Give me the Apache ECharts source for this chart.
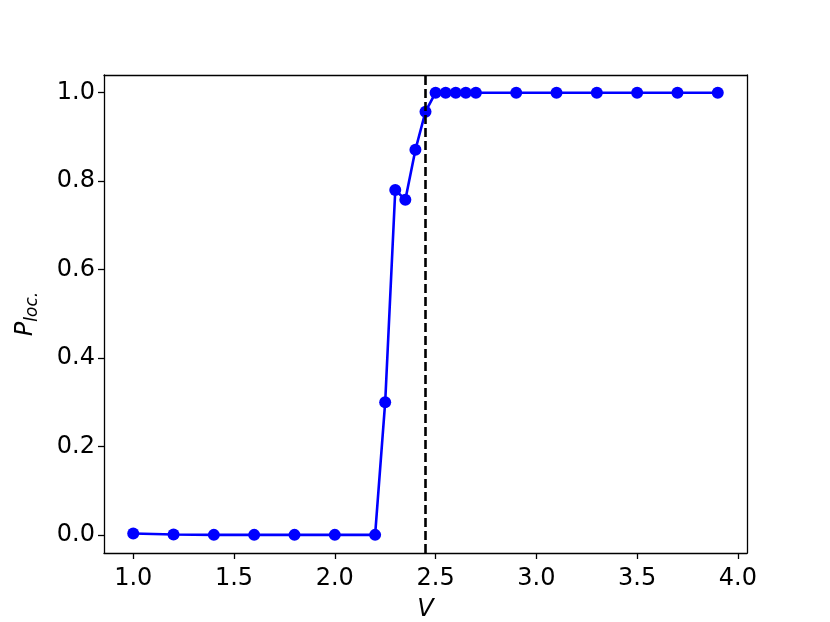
<!DOCTYPE html>
<html>
<head>
<meta charset="utf-8">
<script src="https://cdn.jsdelivr.net/npm/echarts@6/dist/echarts.min.js"></script>
<style>
  html, body { margin: 0; padding: 0; background: #fff; }
  #chart { width: 830px; height: 622px; }
</style>
</head>
<body>
<div id="chart"></div>
<script>
// voltage values and localisation probability
var vValues = [1.0, 1.2, 1.4, 1.6, 1.8, 2.0, 2.2, 2.25, 2.3, 2.35, 2.4, 2.45,
  2.5, 2.55, 2.6, 2.65, 2.7, 2.9, 3.1, 3.3, 3.5, 3.7, 3.9]
var pLoc = [0.003, 0.001, 0.0, 0.0, 0.0, 0.0, 0.0, 0.30, 0.78, 0.758, 0.871, 0.957,
  1.0, 1.0, 1.0, 1.0, 1.0, 1.0, 1.0, 1.0, 1.0, 1.0, 1.0]
var xTicks = [1.0, 1.5, 2.0, 2.5, 3.0, 3.5, 4.0]
var yTicks = [0.0, 0.2, 0.4, 0.6, 0.8, 1.0]
var vCritical = 2.45

var chart = echarts.init(document.getElementById('chart'))
var font = 'DejaVu Sans'
var frameLine = { show: true, onZero: false, lineStyle: { color: '#000', width: 1.3 } }

var option = {
  animation: false,
  backgroundColor: '#fff',
  grid: { left: 104, right: 83, top: 75, bottom: 69, containLabel: false, outerBoundsMode: 'none' },
  xAxis: [{
    type: 'value',
    min: 0.855,
    max: 4.045,
    axisLine: frameLine,
    axisTick: { show: true, length: 6, lineStyle: { color: '#000', width: 1.3 }, customValues: xTicks },
    axisLabel: {
      color: '#000', fontFamily: font, fontSize: 24, margin: 14,
      customValues: xTicks,
      formatter: function (v) { return v.toFixed(1) }
    },
    splitLine: { show: false },
    name: 'V',
    nameLocation: 'middle',
    nameGap: 45,
    nameTextStyle: { color: '#000', fontFamily: font, fontSize: 24, fontStyle: 'italic' }
  }, {
    type: 'value', position: 'top', min: 0.855, max: 4.045,
    axisLine: frameLine, axisTick: { show: false }, axisLabel: { show: false }, splitLine: { show: false }
  }],
  yAxis: [{
    type: 'value',
    min: -0.041,
    max: 1.04,
    axisLine: frameLine,
    axisTick: { show: true, length: 6, lineStyle: { color: '#000', width: 1.3 }, customValues: yTicks },
    axisLabel: {
      color: '#000', fontFamily: font, fontSize: 24, margin: 9,
      customValues: yTicks,
      formatter: function (v) { return v.toFixed(1) }
    },
    splitLine: { show: false },
    name: '{p|P}{s|loc.}',
    nameLocation: 'middle',
    nameGap: 63,
    nameRotate: 90,
    nameTextStyle: {
      color: '#000', fontFamily: font,
      rich: {
        p: { fontSize: 24, fontStyle: 'italic', fontFamily: font, color: '#000' },
        s: { fontSize: 17, fontStyle: 'italic', fontFamily: font, color: '#000', padding: [14, 0, 0, 0] }
      }
    }
  }, {
    type: 'value', position: 'right', min: -0.041, max: 1.04,
    axisLine: frameLine, axisTick: { show: false }, axisLabel: { show: false }, splitLine: { show: false }
  }],
  series: [{
    type: 'line',
    data: vValues.map(function (v, i) { return [v, pLoc[i]] }),
    symbol: 'circle',
    symbolSize: 12,
    lineStyle: { color: '#0000ff', width: 2.6 },
    itemStyle: { color: '#0000ff' },
    markLine: {
      silent: true,
      symbol: 'none',
      label: { show: false },
      lineStyle: { color: '#000', width: 2.6, type: [9, 4] },
      data: [{ xAxis: vCritical }]
    }
  }]
}
chart.setOption(option)
</script>
</body>
</html>
